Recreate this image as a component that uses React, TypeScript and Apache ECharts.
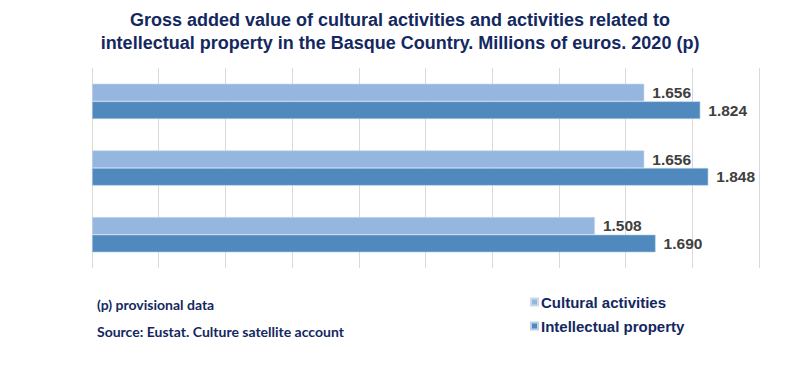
import React, { useEffect, useRef } from "react";
import * as echarts from "echarts";

const categories = ["2018", "2019", "2020"];
const culturalActivities = [1656, 1656, 1508];
const intellectualProperty = [1824, 1848, 1690];
const seriesNames = ["Cultural activities", "Intellectual property"];
const titleText =
  "Gross added value of cultural activities and activities related to\nintellectual property in the Basque Country. Millions of euros. 2020 (p)";
const noteLines = ["(p) provisional data", "Source: Eustat. Culture satellite account"];

const fmt = (v: number) => {
  const s = String(Math.round(v));
  return s.replace(/\B(?=(\d{3})+(?!\d))/g, ".");
};

const SANS = "Arial, 'Liberation Sans', sans-serif";

export default function App() {
  const ref = useRef<HTMLDivElement>(null);
  useEffect(() => {
    if (!ref.current) return;
    const chart = echarts.init(ref.current, null, { renderer: "svg" });
    const labelStyle = {
      show: true,
      position: "right" as const,
      distance: 8,
      fontFamily: SANS,
      fontWeight: "bold" as const,
      fontSize: 15.5,
      color: "#404040",
      formatter: (p: any) => fmt(p.value),
    };
    chart.setOption({
      animation: false,
      backgroundColor: "#ffffff",
      title: {
        text: titleText,
        left: 395,
        textAlign: "center",
        top: 3,
        textStyle: {
          fontFamily: SANS,
          fontWeight: "bold",
          fontSize: 18,
          lineHeight: 23,
          color: "#13285F",
        },
      },
      graphic: noteLines.map((t, i) => ({
        type: "text",
        left: 97,
        top: 297 + i * 27,
        style: {
          text: t,
          fontFamily: "Lato",
          fontWeight: "bold",
          fontSize: 14,
          fill: "#13285F",
        },
      })),
      legend: {
        orient: "vertical",
        left: 525,
        top: 289,
        itemWidth: 7,
        itemHeight: 7,
        itemGap: 8,
        icon: "rect",
        data: seriesNames,
        textStyle: {
          fontFamily: SANS,
          fontWeight: "bold",
          fontSize: 15,
          lineHeight: 16,
          color: "#13285F",
          padding: [0, 0, 0, -2],
        },
      },
      grid: { left: 92, right: 41, top: 68, bottom: 119 },
      xAxis: {
        type: "value",
        min: 0,
        max: 2000,
        interval: 200,
        axisLabel: { show: false },
        axisLine: { show: false },
        axisTick: { show: false },
        splitLine: { show: true, lineStyle: { color: "#D9D9D9", width: 1 } },
      },
      yAxis: {
        type: "category",
        data: categories,
        inverse: true,
        axisLabel: { show: false },
        axisLine: { show: false },
        axisTick: { show: false },
      },
      series: [
        {
          name: seriesNames[0],
          type: "bar",
          data: culturalActivities,
          barGap: "0%",
          barCategoryGap: "47%",
          itemStyle: { color: "#95B7DF", borderColor: "#C9DAEE", borderWidth: 0.6 },
          label: labelStyle,
        },
        {
          name: seriesNames[1],
          type: "bar",
          data: intellectualProperty,
          barGap: "0%",
          barCategoryGap: "47%",
          itemStyle: { color: "#4F89BD", borderColor: "#B9D0E8", borderWidth: 0.6 },
          label: labelStyle,
        },
      ],
    });
    return () => chart.dispose();
  }, []);
  return <div ref={ref} style={{ width: 800, height: 387, margin: -8 }} />;
}
